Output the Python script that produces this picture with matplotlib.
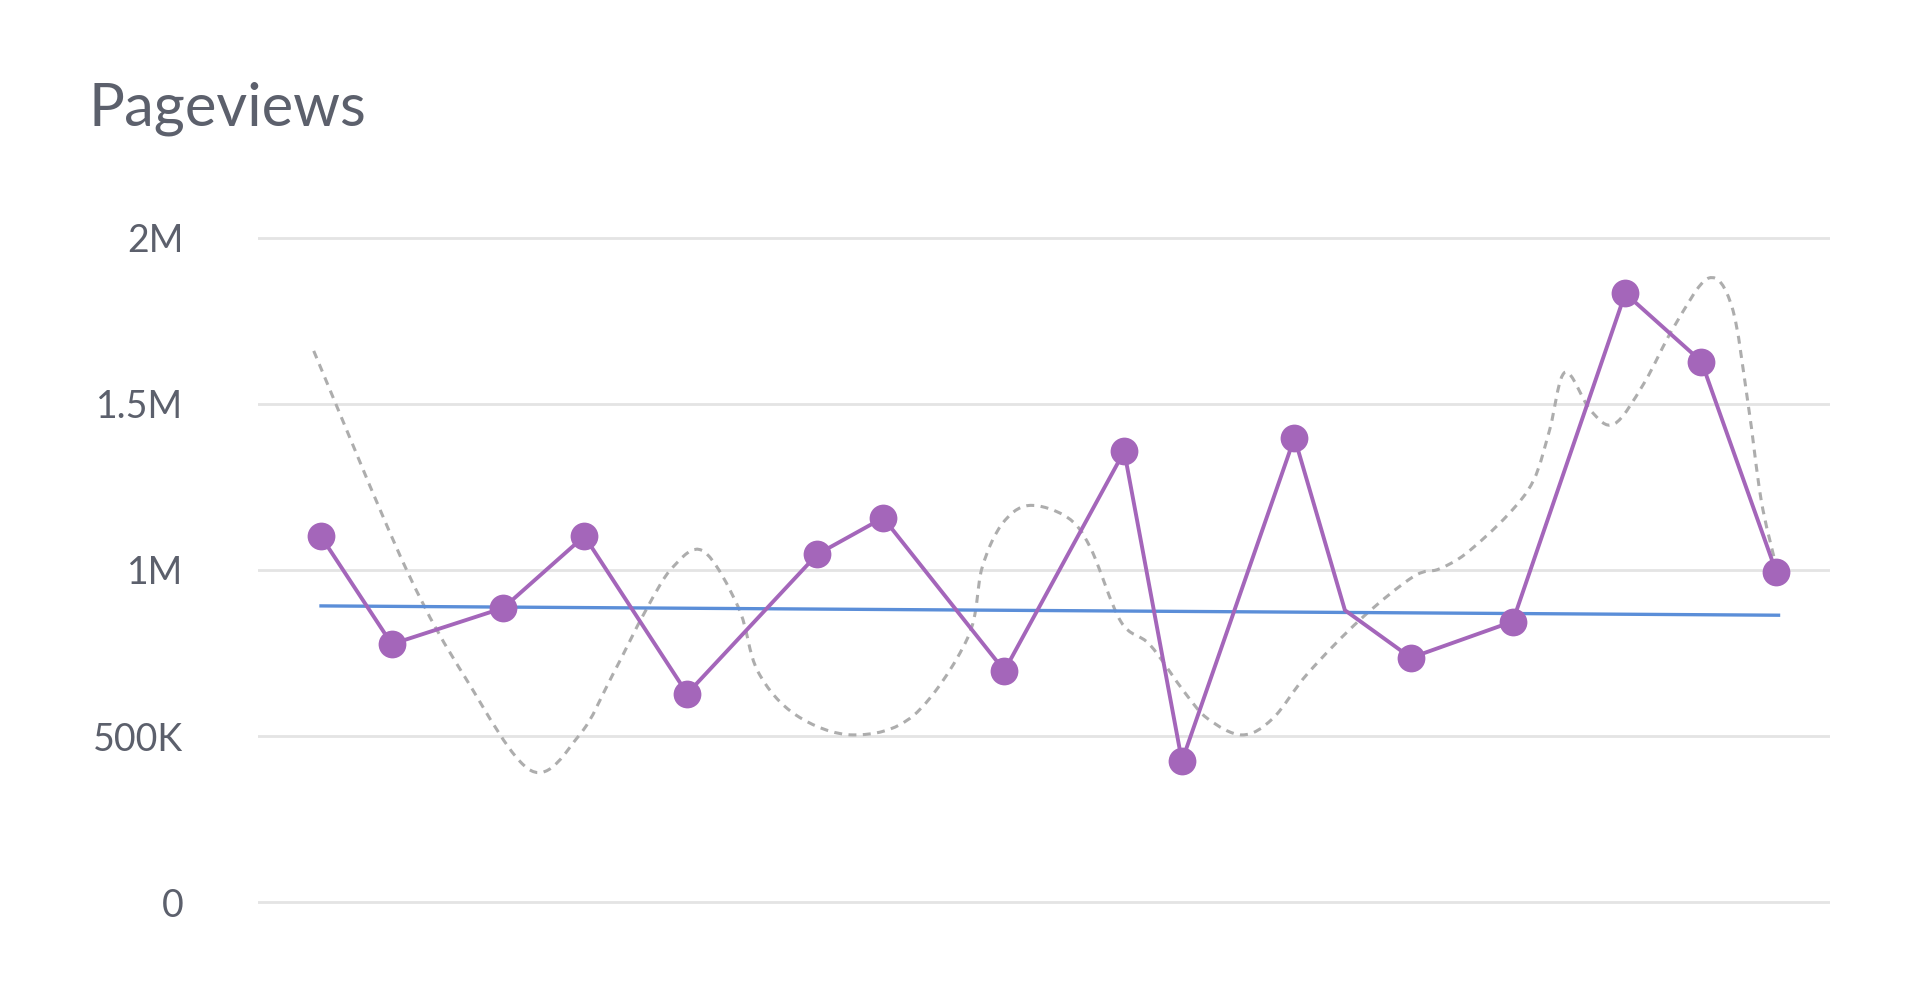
import numpy as np
import matplotlib
matplotlib.use("Agg")
import matplotlib.pyplot as plt
from matplotlib.path import Path
from matplotlib.patches import PathPatch

# current period (x = day position on the time axis, y = pageviews)
cur_days = [1.29, 2.75, 5.05, 6.72, 8.84, 11.52, 12.88, 15.38, 17.85, 19.04,
            21.36, 22.40, 23.76, 25.86, 28.18, 29.75, 31.29]
cur_views = [1101000, 777000, 886000, 1102000, 628000, 1047000, 1157000, 697000,
             1357000, 425000, 1398000, 879000, 736000, 845000, 1832000, 1627000, 995000]
no_marker = [11]   # this point is drawn without a dot

# previous period, drawn as a smooth dashed curve
prev_days = [1.14, 3.03, 4.27, 5.63, 6.62, 7.30, 7.98, 8.54, 9.17, 9.90,
             10.30, 11.09, 12.27, 13.51, 14.62, 14.92, 15.33, 15.88, 16.67, 17.15,
             17.78, 18.38, 19.09, 19.57, 20.28, 20.91, 21.64, 22.73, 23.81, 24.34,
             24.90, 25.76, 26.29, 26.62, 26.94, 27.47, 27.95, 28.56, 29.19, 29.90,
             30.38, 30.71, 30.98, 31.26]
prev_views = [1659000, 1008000, 675000, 396000, 504000, 684000, 877000, 1008000, 1057000, 886000,
              694000, 563000, 504000, 563000, 795000, 1007000, 1138000, 1194000, 1159000, 1068000,
              845000, 775000, 633000, 553000, 504000, 553000, 690000, 853000, 980000, 1003000,
              1050000, 1166000, 1270000, 1421000, 1595000, 1479000, 1439000, 1560000, 1733000, 1878000,
              1791000, 1502000, 1212000, 1030000]

# trend line end points
trend_days = [1.29, 31.34]
trend_views = [892000, 864000]

y_ticks = [0, 500000, 1000000, 1500000, 2000000]
y_labels = ["0", "500K", "1M", "1.5M", "2M"]

title = "Pageviews"

PURPLE = "#a466ba"
BLUE = "#5b8ed8"
GREY = "#adadad"
TEXT = "#5c606c"


def smooth_path(xs, ys):
    """catmull-rom style bezier path through the points"""
    pts = np.column_stack([xs, ys]).astype(float)
    verts = [pts[0]]
    codes = [Path.MOVETO]
    n = len(pts)
    for i in range(n - 1):
        p0 = pts[i - 1] if i > 0 else pts[i]
        p1 = pts[i]
        p2 = pts[i + 1]
        p3 = pts[i + 2] if i + 2 < n else pts[i + 1]
        verts += [p1 + (p2 - p0) / 6.0, p2 - (p3 - p1) / 6.0, p2]
        codes += [Path.CURVE4] * 3
    return Path(verts, codes)


plt.rcParams['font.family'] = ['Lato', 'DejaVu Sans']

fig = plt.figure(figsize=(19.2, 10), dpi=100)
ax = fig.add_axes([0.1346, 0.0809, 0.8185, 0.6982])

ax.set_xlim(0, 32.4)
ax.set_ylim(-50000, 2050000)

ax.set_yticks(y_ticks)
ax.set_yticklabels(y_labels)
ax.set_xticks([])
ax.tick_params(axis='y', length=0, pad=54, labelsize=27, labelcolor=TEXT)
ax.grid(axis='y', color='#e4e4e4', linewidth=2.0)
ax.set_axisbelow(True)
for sp in ax.spines.values():
    sp.set_visible(False)

# previous period
ax.add_patch(PathPatch(smooth_path(prev_days, prev_views), fill=False,
                       edgecolor=GREY, linewidth=2.2, linestyle=(0, (2.6, 2.1)),
                       capstyle='butt', zorder=2))

# trend
ax.plot(trend_days, trend_views, color=BLUE, linewidth=2.4, zorder=3)

# current period
marked = [i for i in range(len(cur_days)) if i not in no_marker]
ax.plot(cur_days, cur_views, color=PURPLE, linewidth=2.8, marker='o',
        markersize=20, markerfacecolor=PURPLE, markeredgewidth=0,
        markevery=marked, zorder=4, clip_on=False)

fig.text(89 / 1920, 1 - 125 / 1000, title, fontsize=43, color=TEXT,
         ha='left', va='baseline')

fig.savefig("out.png", dpi=100, facecolor='white')
